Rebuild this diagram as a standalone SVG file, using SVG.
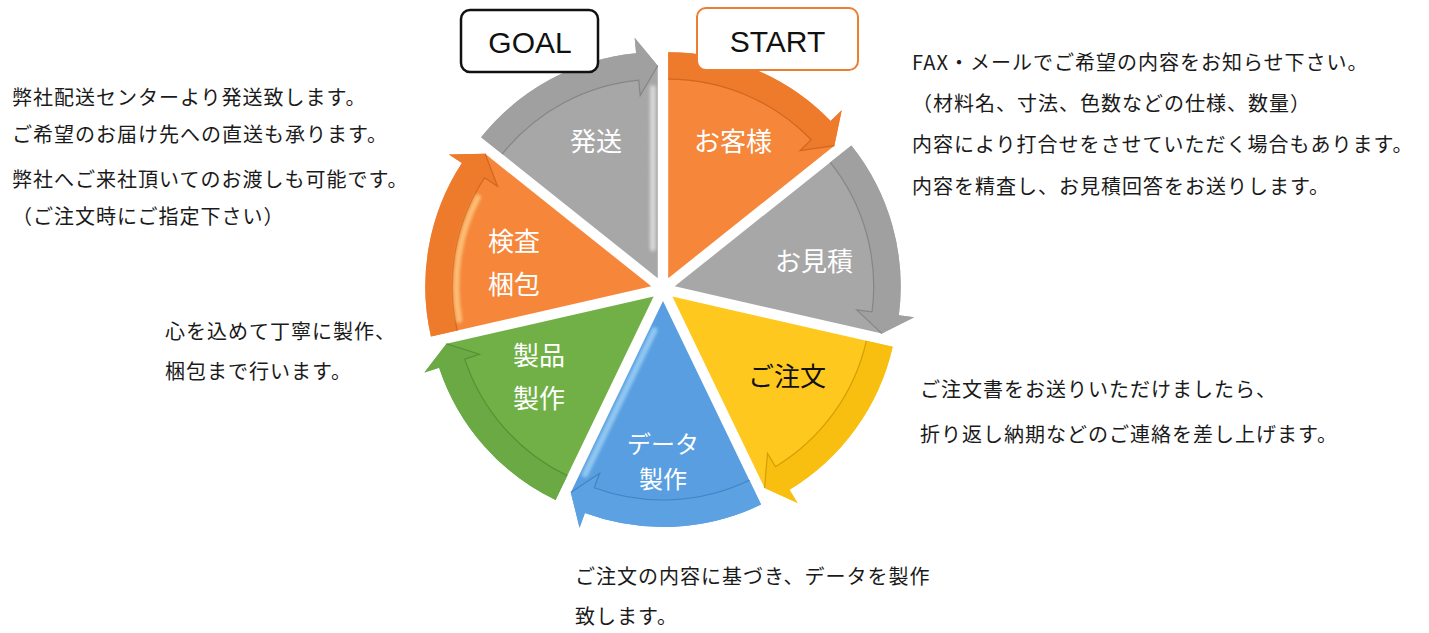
<svg xmlns="http://www.w3.org/2000/svg" xmlns:xlink="http://www.w3.org/1999/xlink" width="1429" height="633" viewBox="0 0 1429 633">
<style>
.desc{font-family:"Noto Sans CJK JP","Noto Sans",sans-serif;font-size:20px;fill:#1a1a1a;letter-spacing:1px}
.lbl{font-family:"Noto Sans CJK JP","Noto Sans",sans-serif;font-size:26px;fill:#ffffff;text-anchor:middle}
.lbl.sm{font-size:24px}
.lbl.dark{fill:#111111}
.boxtxt{font-family:"Liberation Sans","Noto Sans",sans-serif;font-size:30px;fill:#111111;text-anchor:middle}
.body-or{fill:#F5863A}.band-or{fill:#EE7B2C}.line-or{fill:none;stroke:#C8601C;stroke-width:1.2;stroke-opacity:0.8}
.body-gy{fill:#A7A7A7}.band-gy{fill:#A0A0A0}.line-gy{fill:none;stroke:#7E7E7E;stroke-width:1.2;stroke-opacity:0.8}
.body-ye{fill:#FFC81E}.band-ye{fill:#F9BF10}.line-ye{fill:none;stroke:#C99500;stroke-width:1.2;stroke-opacity:0.8}
.body-bl{fill:#589EE0}.band-bl{fill:#5CA2E3}.line-bl{fill:none;stroke:#3C7DBE;stroke-width:1.2;stroke-opacity:0.8}
.body-gr{fill:#70B047}.band-gr{fill:#6AA944}.line-gr{fill:none;stroke:#4F8A30;stroke-width:1.2;stroke-opacity:0.8}
.hl{fill:none;stroke-width:6;stroke-linecap:round;stroke-opacity:0.75;filter:url(#soft)}
</style>
<defs>
<filter id="soft" x="-20%" y="-20%" width="140%" height="140%"><feGaussianBlur stdDeviation="1.4"/></filter>
<path id="segOut" d="M0,0 L0,-226 A226,226 0 0 1 162.38,-157.19 L173.51,-167.98 L166.14,-132.49 Z"/>
<path id="segBand" d="M0,-226 A226,226 0 0 1 162.38,-157.19 L173.51,-167.98 L166.14,-132.49 L131.84,-127.63 L142.98,-138.41 A199,199 0 0 0 0,-199 Z"/>
<path id="segLine" d="M0,-199 A199,199 0 0 1 142.98,-138.41 L131.84,-127.63 L166.14,-132.49"/>
<path id="hlStart" d="M6,-28 L6,-192"/>
<path id="hlEnd" d="M20.34,-22.61 L145.43,-122.37"/>
<path id="hlArc" d="M10.21,-194.73 A195,195 0 0 1 125.34,-149.38"/>
</defs>

<g id="segments">
<g id="seg-okyakusama" transform="translate(668.21,278.19) rotate(0)">
<use href="#segOut" class="body-or"/><use href="#segBand" class="band-or"/><use href="#segLine" class="line-or"/>
<use href="#hlStart" class="hl" stroke="#FFD08A"/>
</g>
<g id="seg-omitsumori" transform="translate(674.70,286.33) rotate(51.4286)">
<use href="#segOut" class="body-gy"/><use href="#segBand" class="band-gy"/><use href="#segLine" class="line-gy"/>
<use href="#hlStart" class="hl" stroke="#D2D2D2"/>
</g>
<g id="seg-gochumon" transform="translate(672.38,296.48) rotate(102.857)">
<use href="#segOut" class="body-ye"/><use href="#segBand" class="band-ye"/><use href="#segLine" class="line-ye"/>
<use href="#hlStart" class="hl" stroke="#FFE566"/>
</g>
<g id="seg-data" transform="translate(663,301) rotate(154.286)">
<use href="#segOut" class="body-bl"/><use href="#segBand" class="band-bl"/><use href="#segLine" class="line-bl"/>
<use href="#hlEnd" class="hl" stroke="#A5D6F7"/>
</g>
<g id="seg-seihin" transform="translate(653.62,296.48) rotate(205.714)">
<use href="#segOut" class="body-gr"/><use href="#segBand" class="band-gr"/><use href="#segLine" class="line-gr"/>
<use href="#hlStart" class="hl" stroke="#C2EE98"/>
</g>
<g id="seg-kensa" transform="translate(651.30,286.33) rotate(257.143)">
<use href="#segOut" class="body-or"/><use href="#segBand" class="band-or"/><use href="#segLine" class="line-or"/>
<use href="#hlArc" class="hl" stroke="#FFD08A"/>
</g>
<g id="seg-hassou" transform="translate(657.79,278.19) rotate(308.571)">
<use href="#segOut" class="body-gy"/><use href="#segBand" class="band-gy"/><use href="#segLine" class="line-gy"/>
<use href="#hlEnd" class="hl" stroke="#E4E4E4"/>
</g>
</g>

<g id="labels">
<text class="lbl" x="733" y="151">お客様</text>
<text class="lbl" x="814" y="271">お見積</text>
<text class="lbl dark" x="787" y="386">ご注文</text>
<text class="lbl sm" x="663" y="453">データ</text>
<text class="lbl sm" x="663" y="488">製作</text>
<text class="lbl" x="539" y="365">製品</text>
<text class="lbl" x="539" y="408">製作</text>
<text class="lbl" x="514" y="251">検査</text>
<text class="lbl" x="514" y="294">梱包</text>
<text class="lbl" x="596" y="151">発送</text>
</g>

<g id="goal">
<rect x="461" y="10" width="137" height="62" rx="9" fill="#ffffff" stroke="#111111" stroke-width="2.5"/>
<text class="boxtxt" x="530" y="53">GOAL</text>
</g>
<g id="start">
<rect x="697" y="8" width="161" height="62" rx="9" fill="#ffffff" stroke="#ED7D31" stroke-width="2"/>
<text class="boxtxt" x="777.5" y="52">START</text>
</g>

<g id="desc-start">
<text class="desc" x="912" y="70">FAX・メールでご希望の内容をお知らせ下さい。</text>
<text class="desc" x="912" y="111">（材料名、寸法、色数などの仕様、数量）</text>
<text class="desc" x="912" y="152">内容により打合せをさせていただく場合もあります。</text>
<text class="desc" x="912" y="194">内容を精査し、お見積回答をお送りします。</text>
</g>
<g id="desc-order">
<text class="desc" x="920" y="397">ご注文書をお送りいただけましたら、</text>
<text class="desc" x="920" y="442">折り返し納期などのご連絡を差し上げます。</text>
</g>
<g id="desc-data">
<text class="desc" x="575" y="584">ご注文の内容に基づき、データを製作</text>
<text class="desc" x="575" y="624">致します。</text>
</g>
<g id="desc-make">
<text class="desc" x="165" y="339">心を込めて丁寧に製作、</text>
<text class="desc" x="165" y="379">梱包まで行います。</text>
</g>
<g id="desc-ship">
<text class="desc" x="12" y="105">弊社配送センターより発送致します。</text>
<text class="desc" x="12" y="142">ご希望のお届け先への直送も承ります。</text>
<text class="desc" x="12" y="187">弊社へご来社頂いてのお渡しも可能です。</text>
<text class="desc" x="12" y="224">（ご注文時にご指定下さい）</text>
</g>
</svg>
